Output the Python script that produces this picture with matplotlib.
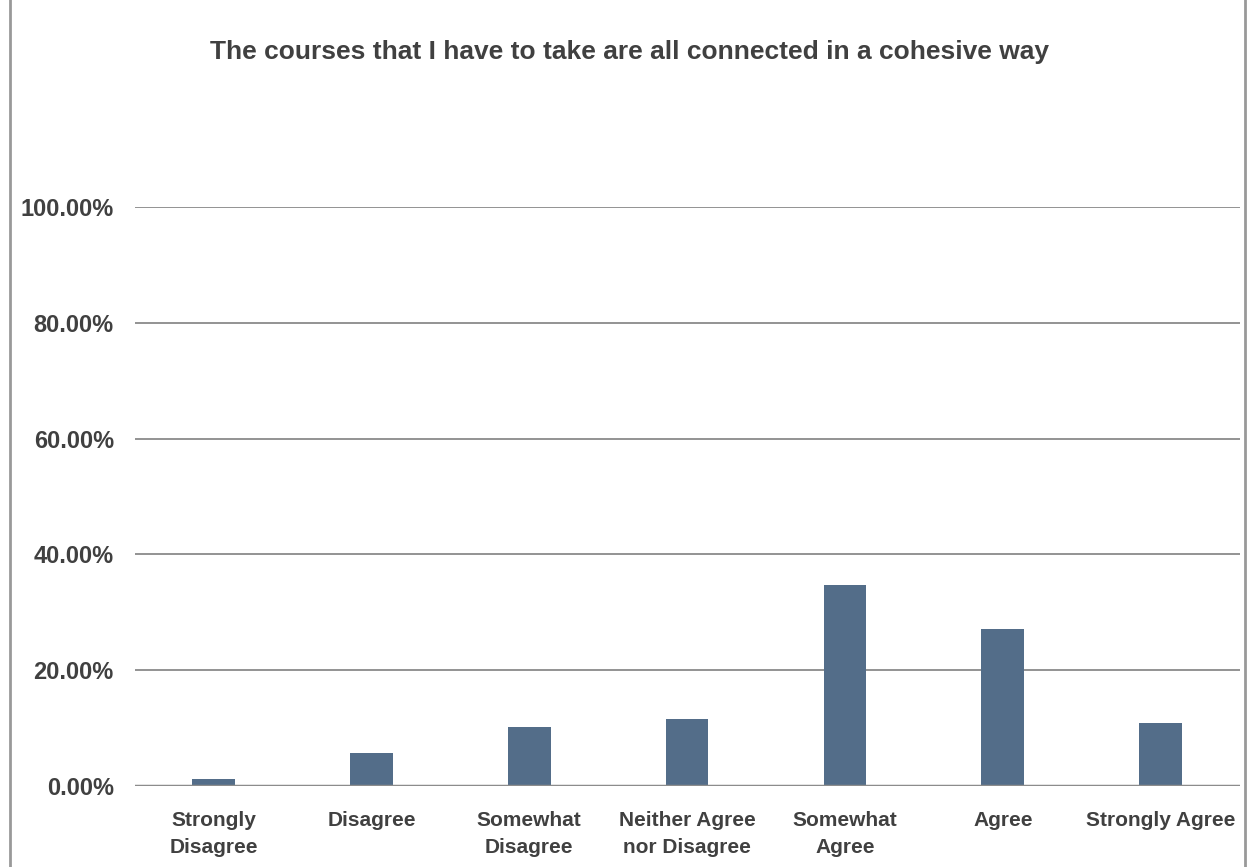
import matplotlib
matplotlib.use("Agg")
import matplotlib.pyplot as plt
from matplotlib import font_manager
from matplotlib.lines import Line2D

categories = ["Strongly\nDisagree", "Disagree", "Somewhat\nDisagree", "Neither Agree\nnor Disagree",
              "Somewhat\nAgree", "Agree", "Strongly Agree"]
values = [1.2, 5.7, 10.2, 11.6, 34.7, 27.1, 10.9]
yticks = [0, 20, 40, 60, 80, 100]
title = "The courses that I have to take are all connected in a cohesive way"

names = {f.name for f in font_manager.fontManager.ttflist}
fam = ["Liberation Sans Narrow", "Liberation Sans", "DejaVu Sans"]
fam = [f for f in fam if f in names] or ["DejaVu Sans"]
plt.rcParams['font.family'] = fam

txt = "#404040"
fig = plt.figure(figsize=(12.47, 8.67), dpi=100)
ax = fig.add_axes([0.108, 0.0934, 0.886, 0.6676])
x = list(range(len(categories)))
ax.bar(x, values, width=0.27, color="#536D89", zorder=3)
ax.set_xlim(-0.5, 6.5)
ax.set_ylim(0, 100)
ax.set_yticks(yticks)
ax.set_yticklabels([f"{v:.2f}%" for v in yticks], fontsize=17, fontweight="bold", color=txt)
ax.set_xticks(x)
ax.set_xticklabels(categories, fontsize=15, fontweight="bold", color=txt, linespacing=1.55)
ax.tick_params(axis="both", length=0)
ax.tick_params(axis="y", pad=15)
ax.tick_params(axis="x", pad=18)
for s in ax.spines.values():
    s.set_visible(False)
ax.grid(axis="y", color="#808080", linewidth=1.2, zorder=0)
ax.axhline(0, color="#8c8c8c", linewidth=2.5, zorder=4)
fig.text(0.505, 0.94, title, ha="center", va="center", fontsize=19, fontweight="bold", color=txt)
fig.add_artist(Line2D([10/1247, 10/1247], [0, 1], color="#999999", linewidth=2, transform=fig.transFigure))
fig.add_artist(Line2D([1245/1247, 1245/1247], [0, 1], color="#999999", linewidth=2, transform=fig.transFigure))
fig.savefig("out.png", dpi=100)
